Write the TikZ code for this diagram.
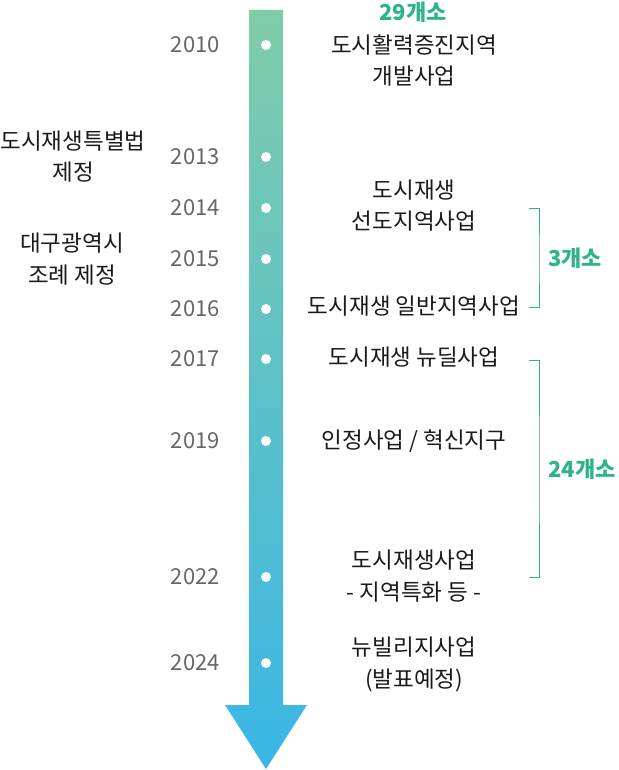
\documentclass[tikz,border=0pt]{standalone}
\usepackage{fontspec}
\setmainfont{Noto Sans CJK KR}
\definecolor{arrowtop}{HTML}{80CCA9}
\definecolor{arrowbot}{HTML}{3AB6E6}
\definecolor{countgreen}{HTML}{2EB48C}
\definecolor{yeargray}{HTML}{666666}
\definecolor{txtblack}{HTML}{1A1A1A}
\tikzset{
  year/.style={anchor=east, inner sep=0pt, text=yeargray, font=\fontsize{22}{26}\selectfont},
  event/.style={align=center, inner sep=0pt, text=txtblack, font=\fontsize{22.5}{31.5}\selectfont},
  count/.style={inner sep=0pt, text=countgreen, font=\fontsize{22}{26}\selectfont\bfseries},
  brace/.style={draw=countgreen, line width=0.9pt},
  dot/.style={circle, fill=white, inner sep=0pt, minimum size=10pt}
}
\begin{document}
\begin{tikzpicture}[x=1pt,y=-1pt]
    \useasboundingbox (0,0) rectangle (618,770);
    {
    \def\shaftl{249}
    \def\shaftr{283}
    \def\headl{225}
    \def\headr{307}
    \def\tipx{266}
    \def\top{10}
    \def\heady{705}
    \def\tipy{769}

    % arrow
    \shade[top color=arrowtop, bottom color=arrowbot]
      (\shaftl,\top) -- (\shaftr,\top) -- (\shaftr,\heady) -- (\headr,\heady)
      -- (\tipx,\tipy) -- (\headl,\heady) -- (\shaftl,\heady) -- cycle;

    % dots and years
    \foreach \yr/\yy in {2010/45,2013/157,2014/208,2015/259,2016/309,2017/359,2019/441,2022/577,2024/663}{
      \node[dot] (d\yr) at (\tipx,\yy) {};
      \node[year] (y\yr) at (220,\yy) {\yr};
    }
    }

    % events
    \node[count] (c29) at (413,12) {29개소};
    \node[event] (e2010) at (414,60.5) {도시활력증진지역\\개발사업};
    \node[event] (e2014) at (414,205.5) {도시재생\\선도지역사업};
    \node[event] (e2016) at (414,306) {도시재생 일반지역사업};
    \node[event] (e2017) at (414,357) {도시재생 뉴딜사업};
    \node[event] (e2019) at (414,441) {인정사업 / 혁신지구};
    \node[event] (e2022) at (414,576) {도시재생사업\\- 지역특화 등 -};
    \node[event] (e2024) at (414,664.5) {뉴빌리지사업\\(발표예정)};

    \node[event] (law) at (73,156.5) {도시재생특별법\\제정};
    \node[event] (ord) at (72,259) {대구광역시\\조례 제정};

    % brackets
    \coordinate (b3a) at (529,208);
    \coordinate (b3b) at (529,307);
    \draw[brace] (b3a) -| (539,258) |- (b3b);
    \node[count, anchor=west] (c3) at (548,258) {3개소};

    \coordinate (b24a) at (529,360);
    \coordinate (b24b) at (529,577);
    \draw[brace] (b24a) -| (539,469) |- (b24b);
    \node[count, anchor=west] (c24) at (548,469) {24개소};
\end{tikzpicture}
\end{document}
